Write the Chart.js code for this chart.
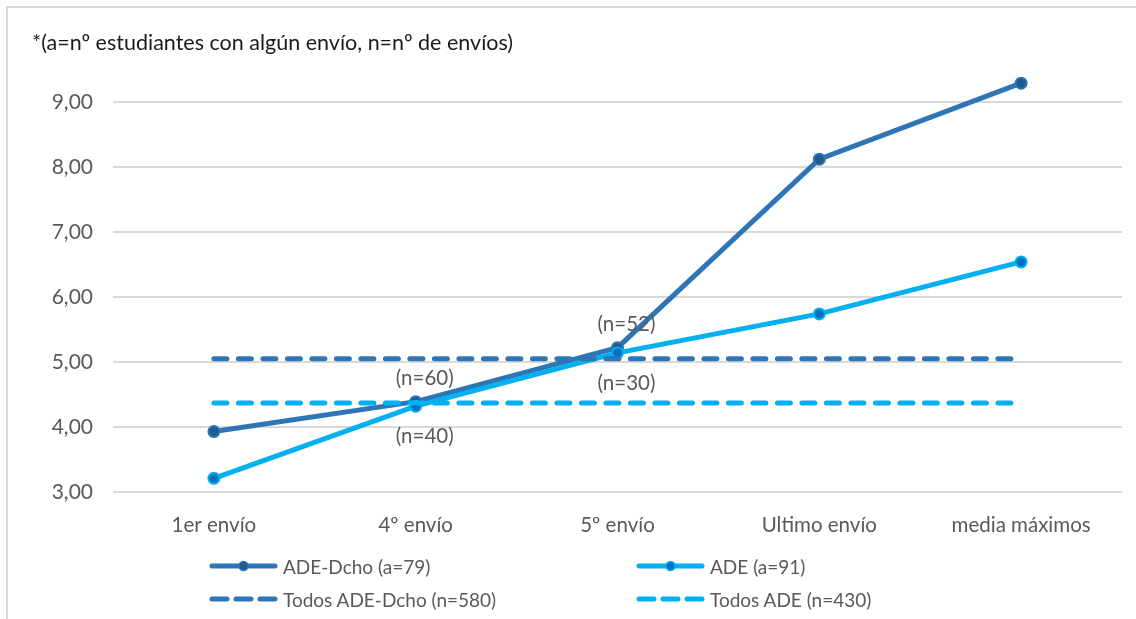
<!DOCTYPE html>
<html>
<head>
<meta charset="utf-8">
<script src="https://cdn.jsdelivr.net/npm/chart.js@4"></script>
<style>
  body { margin: 0; background: #fff; font-family: Lato, sans-serif; }
  #wrap { position: relative; width: 1136px; height: 619px; overflow: hidden; }
  #frame { position: absolute; left: 6px; top: 6px; width: 1140px; height: 620px;
           border-left: 2px solid #d9d9d9; border-top: 2px solid #d9d9d9; }
  #chartBox { position: absolute; left: 0; top: 0; width: 1136px; height: 619px; }
  #note { position: absolute; left: 32px; top: 29px; font-size: 21.5px; color: #1a1a1a; white-space: nowrap; }
  .leg { position: absolute; height: 24px; display: flex; align-items: center;
         font-size: 19px; color: #595959; white-space: nowrap; }
  .leg svg { margin-right: 5px; }
</style>
</head>
<body>
<div id="wrap">
  <div id="frame"></div>
  <div id="chartBox"><canvas id="envChart"></canvas></div>
  <div id="note">*(a=nº estudiantes con algún envío, n=nº de envíos)</div>
  <div id="legend"></div>
</div>
<script>
// ---------------- data ----------------
const categories = ['1er envío', '4º envío', '5º envío', 'Ultimo envío', 'media máximos'];
const adeDcho = [3.93, 4.39, 5.22, 8.12, 9.29];
const ade = [3.21, 4.32, 5.14, 5.74, 6.54];
const todosAdeDcho = [5.05, 5.05, 5.05, 5.05, 5.05];
const todosAde = [4.37, 4.37, 4.37, 4.37, 4.37];
const yTicks = [3, 4, 5, 6, 7, 8, 9];
const labelsAbove = ['', '(n=60)', '(n=52)', '', ''];
const labelsBelow = ['', '(n=40)', '(n=30)', '', ''];

const seriesNames = ['ADE-Dcho (a=79)', 'ADE (a=91)', 'Todos ADE-Dcho (n=580)', 'Todos ADE (n=430)'];
const darkBlue = '#2e75b6';
const lightBlue = '#00b0f0';

// (n=..) labels next to the points of the two solid series
const nLabels = {
  id: 'nLabels',
  afterDatasetsDraw(chart) {
    const ctx = chart.ctx;
    ctx.save();
    ctx.font = '20.5px Lato, sans-serif';
    ctx.fillStyle = '#595959';
    ctx.textAlign = 'center';
    ctx.textBaseline = 'middle';
    chart.getDatasetMeta(0).data.forEach((pt, i) => {
      if (labelsAbove[i]) ctx.fillText(labelsAbove[i], pt.x + 9, pt.y - 23);
    });
    chart.getDatasetMeta(1).data.forEach((pt, i) => {
      if (labelsBelow[i]) ctx.fillText(labelsBelow[i], pt.x + 9, pt.y + 30);
    });
    ctx.restore();
  }
};

const ctx = document.getElementById('envChart').getContext('2d');
new Chart(ctx, {
  type: 'line',
  data: {
    labels: categories,
    datasets: [
      {
        label: seriesNames[0], data: adeDcho, borderColor: darkBlue, borderWidth: 5,
        pointRadius: 5.5, pointBorderWidth: 2, pointBackgroundColor: '#1f5a8f', pointBorderColor: darkBlue,
        tension: 0, clip: false, order: 4
      },
      {
        label: seriesNames[1], data: ade, borderColor: lightBlue, borderWidth: 5,
        pointRadius: 5.5, pointBorderWidth: 2, pointBackgroundColor: '#0070c0', pointBorderColor: lightBlue,
        tension: 0, clip: false, order: 3
      },
      {
        label: seriesNames[2], data: todosAdeDcho, borderColor: darkBlue, borderWidth: 5,
        borderDash: [13, 11.5], borderCapStyle: 'round', pointRadius: 0, tension: 0, order: 2
      },
      {
        label: seriesNames[3], data: todosAde, borderColor: lightBlue, borderWidth: 5,
        borderDash: [13, 11.5], borderCapStyle: 'round', pointRadius: 0, tension: 0, order: 1
      }
    ]
  },
  options: {
    responsive: true,
    maintainAspectRatio: false,
    animation: false,
    layout: { padding: { top: 76, right: 14, bottom: 0, left: 0 } },
    plugins: {
      legend: { display: false },
      tooltip: { enabled: false }
    },
    scales: {
      x: {
        offset: true,
        grid: { display: false },
        border: { display: false },
        ticks: { color: '#595959', font: { family: 'Lato', size: 20.5 }, padding: 13, maxRotation: 0 },
        afterFit(scale) { scale.height = 127; }
      },
      y: {
        min: 3,
        max: 9.4,
        afterBuildTicks(scale) { scale.ticks = yTicks.map(v => ({ value: v })); },
        grid: { color: '#d9d9d9', lineWidth: 2, drawTicks: false },
        border: { display: false },
        ticks: {
          color: '#595959', font: { family: 'Lato', size: 21 }, padding: 20,
          callback: (v) => v.toFixed(2).replace('.', ',')
        },
        afterFit(scale) { scale.width = 113; }
      }
    }
  },
  plugins: [nLabels]
});

// ---------------- legend (two columns) ----------------
const legend = document.getElementById('legend');
const legendPos = [[209, 554], [636, 554], [209, 587], [636, 587]];
const legendColors = [darkBlue, lightBlue, darkBlue, lightBlue];
const legendDots = ['#1f5a8f', '#0070c0', null, null];

seriesNames.forEach((name, i) => {
  const item = document.createElement('div');
  item.className = 'leg';
  item.style.left = legendPos[i][0] + 'px';
  item.style.top = legendPos[i][1] + 'px';
  let sample;
  if (legendDots[i]) {
    sample = `<line x1="3" y1="12" x2="66" y2="12" stroke="${legendColors[i]}" stroke-width="5" stroke-linecap="round"/>
      <circle cx="34.5" cy="12" r="4.5" fill="${legendDots[i]}" stroke="${legendColors[i]}" stroke-width="1.5"/>`;
  } else {
    sample = `<line x1="3" y1="12" x2="66" y2="12" stroke="${legendColors[i]}" stroke-width="5"
      stroke-linecap="round" stroke-dasharray="15 9"/>`;
  }
  item.innerHTML = `<svg width="69" height="24">${sample}</svg>${name}`;
  legend.appendChild(item);
});
</script>
</body>
</html>
